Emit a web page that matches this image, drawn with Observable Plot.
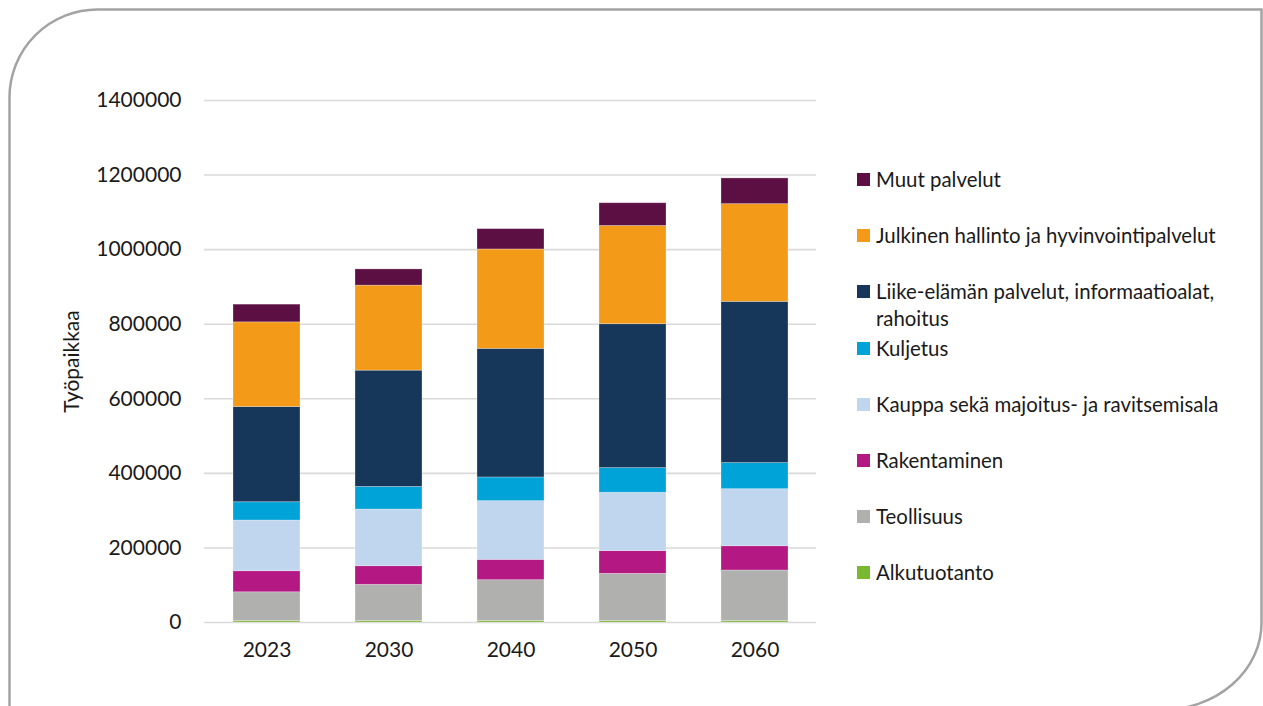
<!DOCTYPE html>
<html>
<head>
<meta charset="utf-8">
<script src="https://cdn.jsdelivr.net/npm/d3@7"></script>
<script src="https://cdn.jsdelivr.net/npm/@observablehq/plot@0.6"></script>
<style>
  html, body { margin: 0; padding: 0; background: #fff; }
  #wrap { position: relative; width: 1263px; height: 706px; overflow: hidden; font-family: Lato, "Open Sans", sans-serif; color: #1a1a1a; }
  #frame { position: absolute; left: 0; top: 0; }
  #chart { position: absolute; left: 0; top: 0; }
  #legend { position: absolute; left: 857px; top: 0; }
  .item { position: absolute; left: 0; display: flex; align-items: flex-start; }
  .sw { width: 13px; height: 13px; margin-top: 7px; flex: none; }
  .lab { margin-left: 6px; width: 380px; font-size: 20.4px; line-height: 27px; }
</style>
</head>
<body>
<div id="wrap">
  <svg id="frame" width="1263" height="706">
    <path d="M 9.5 720 L 9.5 97 A 88 88 0 0 1 97.5 9.5 L 1261.5 9.5 L 1261.5 623 A 100 87 0 0 1 1161.5 710 L 9.5 710"
          fill="none" stroke="#a3a3a3" stroke-width="2.5"/>
  </svg>
  <div id="chart"></div>
  <div id="legend"></div>
</div>
<script>
// ---- data ----
const years = ["2023", "2030", "2040", "2050", "2060"];
const seriesNames = [
  "Alkutuotanto",
  "Teollisuus",
  "Rakentaminen",
  "Kauppa sekä majoitus- ja ravitsemisala",
  "Kuljetus",
  "Liike-elämän palvelut, informaatioalat, rahoitus",
  "Julkinen hallinto ja hyvinvointipalvelut",
  "Muut palvelut"
];
const alkutuotanto = [4000, 4000, 4000, 4000, 4000];
const teollisuus   = [77000, 97000, 109500, 126500, 135500];
const rakentaminen = [56500, 50000, 54500, 61000, 65000];
const kauppa       = [136000, 152000, 157500, 156500, 153000];
const kuljetus     = [49000, 60500, 63500, 66000, 70000];
const liike        = [255500, 312000, 345000, 386000, 432500];
const julkinen     = [227000, 228000, 266500, 263500, 262000];
const muut         = [47500, 43500, 54500, 61000, 69000];
const seriesColors = ["#7ab92f", "#b0b0af", "#b41882", "#c0d6ee", "#00a3d7", "#17375a", "#f39a18", "#5c0f42"];
const yTicks = [0, 200000, 400000, 600000, 800000, 1000000, 1200000, 1400000];
const yLabel = "Työpaikkaa";

const seriesValues = [alkutuotanto, teollisuus, rakentaminen, kauppa, kuljetus, liike, julkinen, muut];
const table = [];
seriesNames.forEach((s, i) => years.forEach((y, j) => table.push({year: y, series: s, value: seriesValues[i][j]})));

const plot = Plot.plot({
  width: 830,
  height: 706,
  marginLeft: 204,
  marginRight: 14,
  marginTop: 100,
  marginBottom: 84,
  style: {fontFamily: "Lato, 'Open Sans', sans-serif", fontSize: "21px", color: "#1a1a1a", background: "transparent"},
  x: {domain: years, paddingInner: 0.453, paddingOuter: 0.225, label: null, tickSize: 0, tickPadding: 20},
  y: {domain: [0, 1400000], ticks: yTicks, tickFormat: d => String(d), label: null, tickSize: 0, tickPadding: 23},
  color: {domain: seriesNames, range: seriesColors},
  marks: [
    Plot.ruleY(yTicks, {stroke: "#d9d9d9", strokeWidth: 1.6}),
    Plot.barY(table, {x: "year", y: "value", fill: "series", order: seriesNames, stroke: "#ffffff", strokeOpacity: 0.35, strokeWidth: 0.8}),
    Plot.text([yLabel], {frameAnchor: "left", textAnchor: "middle", lineAnchor: "middle", rotate: -90, dx: -132, fontSize: 21, fill: "#1a1a1a"})
  ]
});
document.getElementById("chart").appendChild(plot);

// ---- legend (top to bottom: reverse stacking order) ----
const legend = document.getElementById("legend");
const legendOrder = seriesNames.map((s, i) => ({s, c: seriesColors[i]})).reverse();
legendOrder.forEach((d, k) => {
  const item = document.createElement("div");
  item.className = "item";
  item.style.top = (180 - 14 + k * 56.2) + "px";
  const sw = document.createElement("div");
  sw.className = "sw";
  sw.style.background = d.c;
  const lab = document.createElement("div");
  lab.className = "lab";
  lab.textContent = d.s;
  item.appendChild(sw);
  item.appendChild(lab);
  legend.appendChild(item);
});
</script>
</body>
</html>
